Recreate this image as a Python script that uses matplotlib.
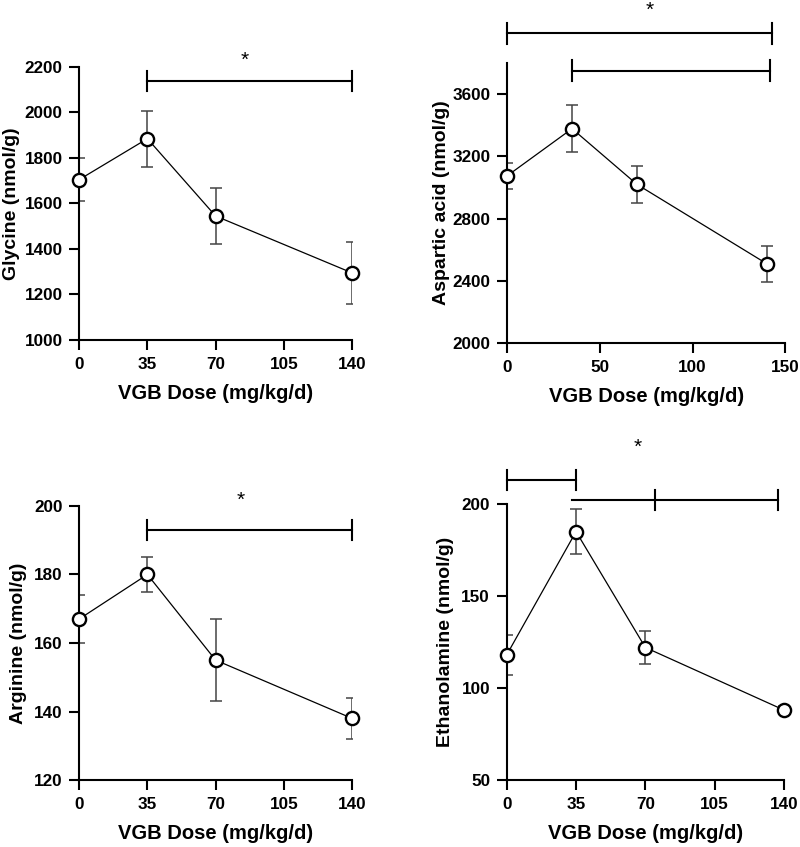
import matplotlib
matplotlib.use('Agg')
import matplotlib.pyplot as plt

plt.rcParams['font.family'] = ['Liberation Sans', 'DejaVu Sans']
plt.rcParams['font.weight'] = 'bold'
plt.rcParams['axes.labelweight'] = 'bold'

# data (mean +/- error)
dose = [0, 35, 70, 140]

gly_mean = [1705, 1885, 1545, 1295]
gly_err = [95, 123, 124, 135]

asp_mean = [3075, 3378, 3020, 2510]
asp_err = [85, 152, 117, 115]

arg_mean = [167, 180, 155, 138]
arg_err = [7, 5, 12, 6]

eth_mean = [118, 185, 122, 88]
eth_err = [11, 12, 9, 2]

# significance brackets: (x start, x end, y, x positions of end ticks)
gly_sig = [(35, 140, 2138, [35, 140])]
asp_sig = [(0, 143, 3990, [0, 143]), (35, 142, 3750, [35, 142])]
arg_sig = [(35, 140, 193, [35, 140])]
eth_sig = [(0, 35, 213, [0, 35]), (33, 137, 202, [75, 137])]

gly_star = (85, 2231)
asp_star = (77, 4137)
arg_star = (83, 201.8)
eth_star = (66, 231)

fig = plt.figure(figsize=(8, 8.47), dpi=100)


def panel(rect, mean, err, ylabel, ylim, yticks, xlim, xticks, sig, star, ypad):
    ax = fig.add_axes(rect)
    ax.errorbar(dose, mean, yerr=err, fmt='none', ecolor='#444444',
                elinewidth=1.1, capsize=4.5, capthick=1.1, zorder=2)
    ax.plot(dose, mean, color='black', lw=0.9, marker='o', ms=9.5,
            mfc='white', mec='black', mew=1.7, zorder=3, clip_on=False)
    ax.set_xlim(*xlim)
    ax.set_ylim(*ylim)
    ax.set_xticks(xticks)
    ax.set_yticks(yticks)
    for s in ['top', 'right']:
        ax.spines[s].set_visible(False)
    for s in ['left', 'bottom']:
        ax.spines[s].set_linewidth(1.5)
    ax.tick_params(direction='out', length=7, width=1.5, labelsize=12.3, pad=5)
    ax.set_xlabel('VGB Dose (mg/kg/d)', fontsize=14.5, labelpad=9)
    ax.set_ylabel(ylabel, fontsize=14, labelpad=ypad)

    h = 0.037 * (ylim[1] - ylim[0])
    for x0, x1, y, tx in sig:
        ax.plot([x0, x1], [y, y], color='black', lw=1.5, clip_on=False)
        for t in tx:
            ax.plot([t, t], [y - h, y + h], color='black', lw=1.5, clip_on=False)
    ax.text(star[0], star[1], '*', ha='center', va='center', fontsize=15,
            fontweight='normal')
    return ax


panel([0.099, 0.5986, 0.341, 0.3223], gly_mean, gly_err, 'Glycine (nmol/g)',
      (1000, 2200), range(1000, 2201, 200), (0, 140), [0, 35, 70, 105, 140],
      gly_sig, gly_star, 3.5)

panel([0.634, 0.595, 0.3475, 0.3306], asp_mean, asp_err, 'Aspartic acid (nmol/g)',
      (2000, 3800), range(2000, 3601, 400), (0, 150), [0, 50, 100, 150],
      asp_sig, asp_star, 1.5)

panel([0.099, 0.0791, 0.341, 0.3235], arg_mean, arg_err, 'Arginine (nmol/g)',
      (120, 200), range(120, 201, 20), (0, 140), [0, 35, 70, 105, 140],
      arg_sig, arg_star, 5)

panel([0.6334, 0.0791, 0.3466, 0.3259], eth_mean, eth_err, 'Ethanolamine (nmol/g)',
      (50, 200), [50, 100, 150, 200], (0, 140), [0, 35, 70, 105, 140],
      eth_sig, eth_star, 5)

fig.savefig('out.png', dpi=100)
